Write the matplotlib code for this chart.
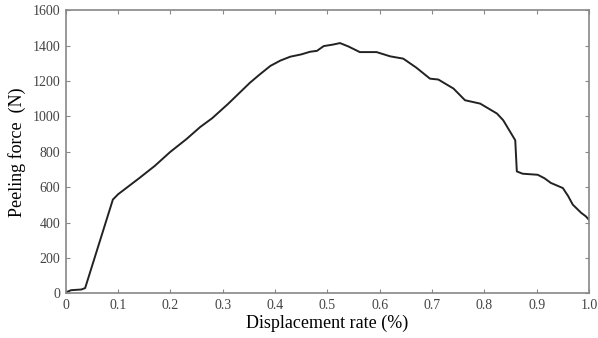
import matplotlib
matplotlib.use("Agg")
import matplotlib.pyplot as plt
import numpy as np

# Peeling force curve
disp = [0.0, 0.01, 0.03, 0.037, 0.09, 0.10, 0.14, 0.17, 0.20, 0.23, 0.257, 0.28,
        0.31, 0.352, 0.37, 0.391, 0.41, 0.429, 0.45, 0.467, 0.48, 0.493, 0.51,
        0.524, 0.54, 0.562, 0.594, 0.620, 0.645, 0.67, 0.696, 0.712, 0.741,
        0.763, 0.792, 0.824, 0.836, 0.859, 0.862, 0.873, 0.902,
        0.915, 0.927, 0.950, 0.96, 0.969, 0.985, 0.994, 1.0]
force = [5, 18, 22, 30, 530, 560, 650, 720, 800, 870, 940, 990,
         1070, 1190, 1235, 1285, 1315, 1337, 1350, 1365, 1370, 1397, 1405,
         1414, 1395, 1363, 1363, 1339, 1326, 1275, 1213, 1208, 1157,
         1091, 1072, 1016, 978, 865, 689, 676, 670,
         650, 624, 595, 550, 501, 455, 435, 415]

xticks = [0, 0.1, 0.2, 0.3, 0.4, 0.5, 0.6, 0.7, 0.8, 0.9, 1.0]
xticklabels = ["0", "0.1", "0.2", "0.3", "0.4", "0.5", "0.6", "0.7", "0.8", "0.9", "1.0"]
yticks = [0, 200, 400, 600, 800, 1000, 1200, 1400, 1600]

plt.rcParams["font.family"] = ["Liberation Serif", "DejaVu Serif"]

fig = plt.figure(figsize=(5.98, 3.38), dpi=100)
ax = fig.add_axes([0.110, 0.132, 0.875, 0.838])

ax.plot(disp, force, color="#222222", linewidth=1.4)

ax.set_xlim(0, 1.0)
ax.set_ylim(0, 1600)
ax.set_xticks(xticks)
ax.set_xticklabels(xticklabels)
ax.set_yticks(yticks)
ax.tick_params(direction="in", top=True, right=True, length=3, width=0.8,
               color="#888888", labelsize=10, labelcolor="#444444", pad=4)
for s in ax.spines.values():
    s.set_color("#888888")
    s.set_linewidth(1.2)

ax.set_xlabel("Displacement rate (%)", fontsize=13, labelpad=2)
ax.set_ylabel("Peeling force  (N)", fontsize=13, labelpad=5)

fig.savefig("out.png", dpi=100)
